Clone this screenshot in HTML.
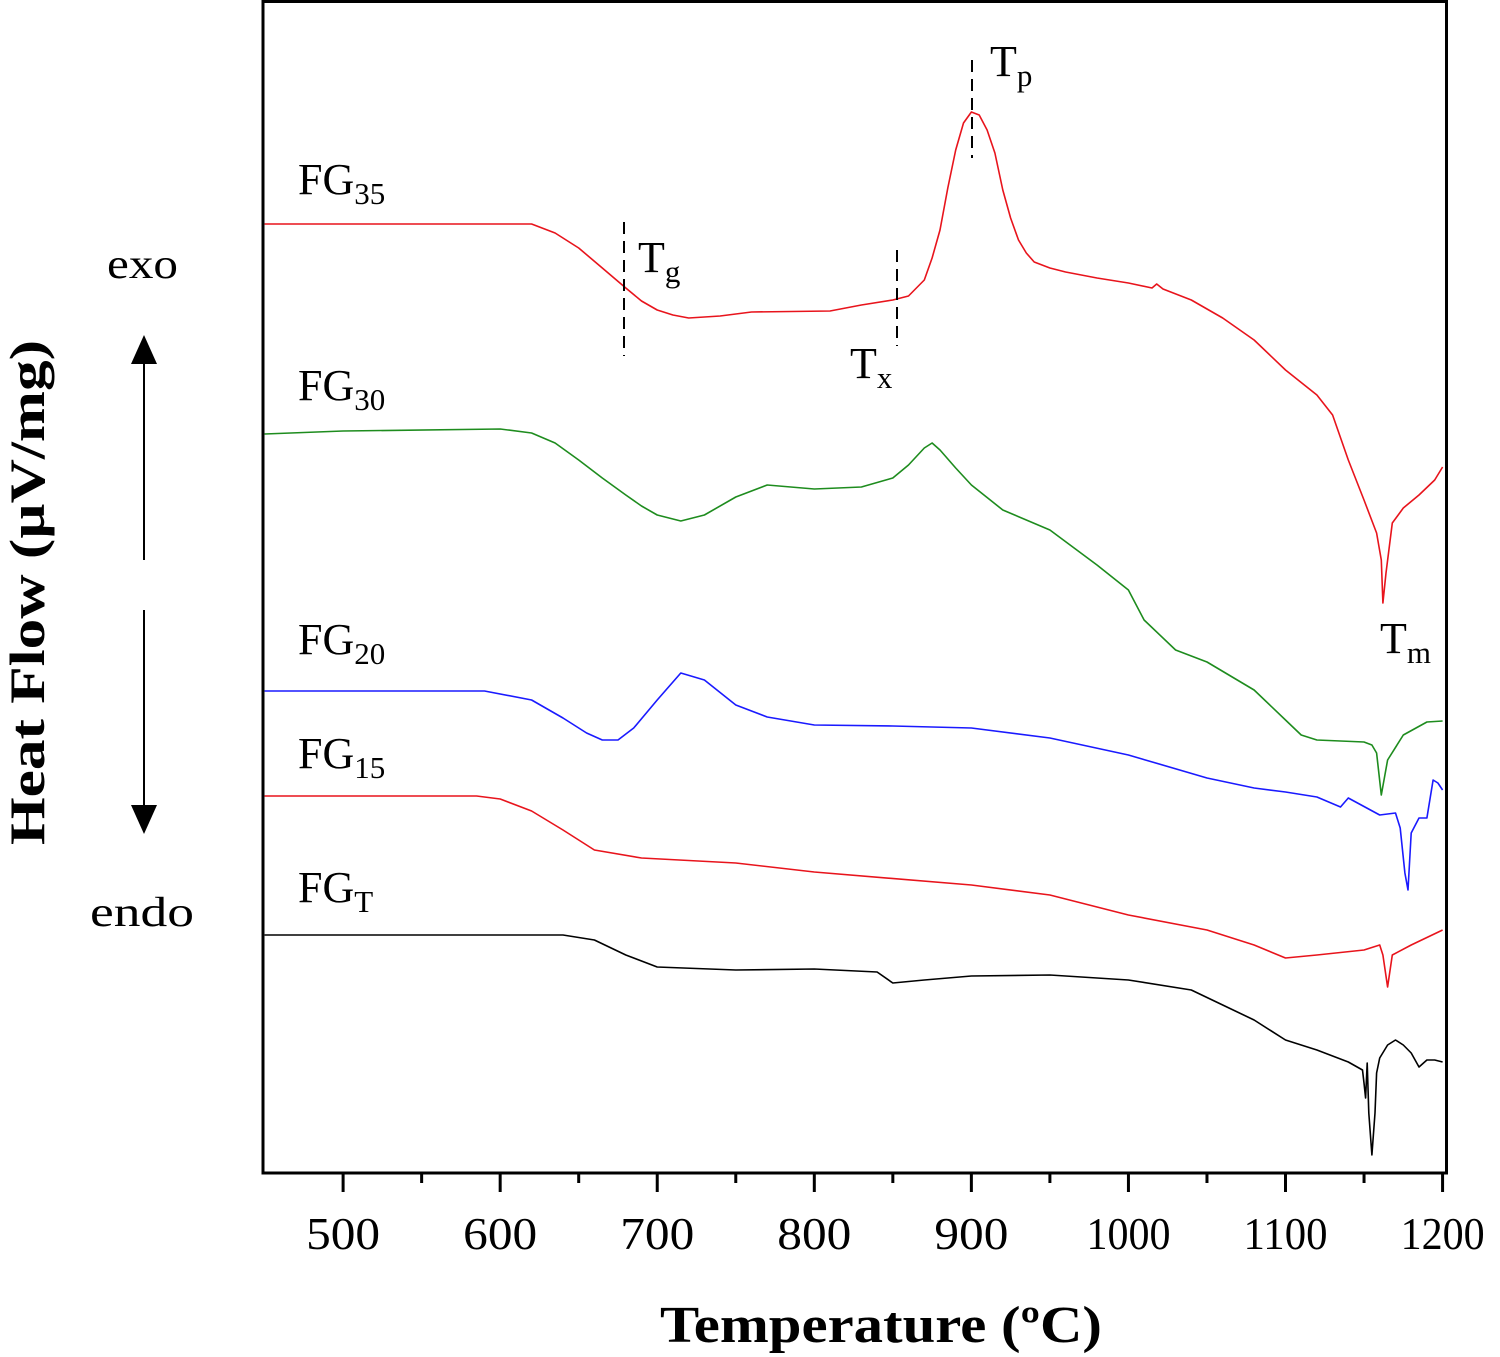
<!DOCTYPE html>
<html><head><meta charset="utf-8"><style>
html,body{margin:0;padding:0;background:#fff}
svg{display:block;font-family:"Liberation Serif",serif}
</style></head><body>
<svg id="chart" width="1500" height="1357" viewBox="0 0 1500 1357" xmlns="http://www.w3.org/2000/svg">
<g id="marks"></g>
<g id="ticks"></g>
<rect x="263" y="1.5" width="1183.5" height="1171.5" fill="none" stroke="#000" stroke-width="3"/>
<text x="660" y="1342" font-size="52" font-weight="bold" textLength="442" lengthAdjust="spacingAndGlyphs">Temperature (ºC)</text>
<text transform="translate(44,845) rotate(-90)" font-size="50" font-weight="bold" textLength="505" lengthAdjust="spacingAndGlyphs">Heat Flow (µV/mg)</text>
<text x="107" y="278" font-size="42" textLength="71" lengthAdjust="spacingAndGlyphs">exo</text>
<text x="90" y="926" font-size="42" textLength="104" lengthAdjust="spacingAndGlyphs">endo</text>
<g>
<line x1="144" y1="360" x2="144" y2="560" stroke="#000" stroke-width="2"/>
<polygon points="144,335 131,364 157,364" fill="#000"/>
<line x1="144" y1="610" x2="144" y2="808" stroke="#000" stroke-width="2"/>
<polygon points="144,834 131,805 157,805" fill="#000"/>
</g>
<g font-size="44">
<text x="298" y="194">FG<tspan font-size="31" dy="10">35</tspan></text>
<text x="298" y="400">FG<tspan font-size="31" dy="10">30</tspan></text>
<text x="298" y="654">FG<tspan font-size="31" dy="10">20</tspan></text>
<text x="298" y="768">FG<tspan font-size="31" dy="10">15</tspan></text>
<text x="298" y="902">FG<tspan font-size="31" dy="10">T</tspan></text>
</g>
<g stroke="#000" stroke-width="2" stroke-dasharray="12,7">
<line x1="624" y1="222" x2="624" y2="356"/>
<line x1="897" y1="250" x2="897" y2="346"/>
<line x1="972" y1="60" x2="972" y2="158"/>
</g>
<g font-size="44">
<text x="638" y="272">T<tspan font-size="31" dy="10">g</tspan></text>
<text x="850" y="378">T<tspan font-size="31" dy="10">x</tspan></text>
<text x="990" y="76">T<tspan font-size="31" dy="10">p</tspan></text>
<text x="1380" y="653">T<tspan font-size="31" dy="10">m</tspan></text>
</g>
</svg>
<script>
const xTicks=[500,600,700,800,900,1000,1100,1200];
const minorTicks=[550,650,750,850,950,1050,1150];
const fg35T=[450,620,635,650,665,680,690,700,710,720,740,760,810,830,850,860,870,875,880,885,890,895,900,905,910,915,920,925,930,935,940,950,960,980,1000,1015,1018,1022,1040,1060,1080,1100,1120,1130,1140,1150,1158,1161,1162,1164,1168,1175,1185,1195,1200];
const fg35V=[949,949,940,925,905,885,872,863,858,855,857,861,862,868,873,877,893,915,943,985,1023,1050,1061,1058,1043,1020,983,955,933,920,911,905,901,895,890,885,889,884,873,855,833,803,778,758,713,673,640,613,570,600,650,665,678,693,706];
const fg30T=[450,500,600,620,635,650,665,680,690,700,715,730,750,770,800,830,850,860,870,875,880,890,900,920,950,980,1000,1010,1030,1050,1080,1100,1110,1120,1150,1155,1158,1161,1165,1175,1190,1200];
const fg30V=[739,742,744,740,730,713,695,678,667,658,652,658,676,688,684,686,695,708,725,730,723,705,688,663,643,608,583,553,523,511,483,453,438,433,431,428,420,378,413,438,451,452];
const fg20T=[450,590,620,640,655,665,675,685,700,715,730,750,770,800,850,900,950,1000,1050,1080,1100,1120,1135,1140,1160,1170,1173,1176,1178,1180,1185,1190,1194,1197,1200];
const fg20V=[482,482,473,455,440,433,433,445,473,500,493,468,456,448,447,445,435,418,395,385,381,376,366,375,358,360,345,300,283,340,355,355,393,390,383];
const fg15T=[450,585,600,620,640,660,690,750,800,900,950,1000,1050,1080,1100,1120,1150,1160,1162,1165,1168,1180,1200];
const fg15V=[377,377,374,362,343,323,315,310,301,288,278,258,243,228,215,218,223,228,218,186,218,228,243];
const fgtT=[450,640,660,680,700,750,800,840,850,870,900,950,1000,1040,1060,1080,1100,1120,1140,1149,1150,1151,1152,1153,1155,1157,1158,1160,1165,1170,1175,1180,1185,1190,1195,1200];
const fgtV=[238,238,233,218,206,203,204,201,190,193,197,198,193,183,168,153,133,123,111,103,90,75,110,60,18,60,100,115,128,133,128,120,106,113,113,111];
const X0=263, X1=1446.5, T0=449, T1=1202.5, BASE=1173;
function xs(t){return X0+(t-T0)/(T1-T0)*(X1-X0);}
function ys(v){return BASE-v;}
const NS="http://www.w3.org/2000/svg";
const marks=document.getElementById('marks');
function series(T,V,color,name){
  const p=document.createElementNS(NS,'path');
  p.setAttribute('d',T.map((t,i)=>(i?'L':'M')+xs(t).toFixed(1)+','+ys(V[i]).toFixed(1)).join(''));
  p.setAttribute('fill','none');p.setAttribute('stroke',color);p.setAttribute('stroke-width','1.6');p.setAttribute('stroke-linejoin','round');
  
  
  marks.appendChild(p);
}
series(fg35T,fg35V,'#e8141c','fg35-curve');
series(fg30T,fg30V,'#1e8c1e','fg30-curve');
series(fg20T,fg20V,'#1a1aff','fg20-curve');
series(fg15T,fg15V,'#e8141c','fg15-curve');
series(fgtT,fgtV,'#000','fgt-curve');
const tg=document.getElementById('ticks');
xTicks.forEach(t=>{
  const l=document.createElementNS(NS,'line');
  l.setAttribute('x1',xs(t));l.setAttribute('x2',xs(t));l.setAttribute('y1',1173);l.setAttribute('y2',1192);
  l.setAttribute('stroke','#000');l.setAttribute('stroke-width','3');
  
  
  tg.appendChild(l);
  const tx=document.createElementNS(NS,'text');
  const w=String(t).length>3?84:74;
  tx.setAttribute('x',xs(t)-w/2);tx.setAttribute('y',1249);tx.setAttribute('font-size','46');
  tx.setAttribute('textLength',w);tx.setAttribute('lengthAdjust','spacingAndGlyphs');
  tx.textContent=t;
  
  
  tg.appendChild(tx);
});
minorTicks.forEach(t=>{
  const l=document.createElementNS(NS,'line');
  l.setAttribute('x1',xs(t));l.setAttribute('x2',xs(t));l.setAttribute('y1',1173);l.setAttribute('y2',1183);
  l.setAttribute('stroke','#000');l.setAttribute('stroke-width','3');
  
  
  tg.appendChild(l);
});
</script>
</body></html>
